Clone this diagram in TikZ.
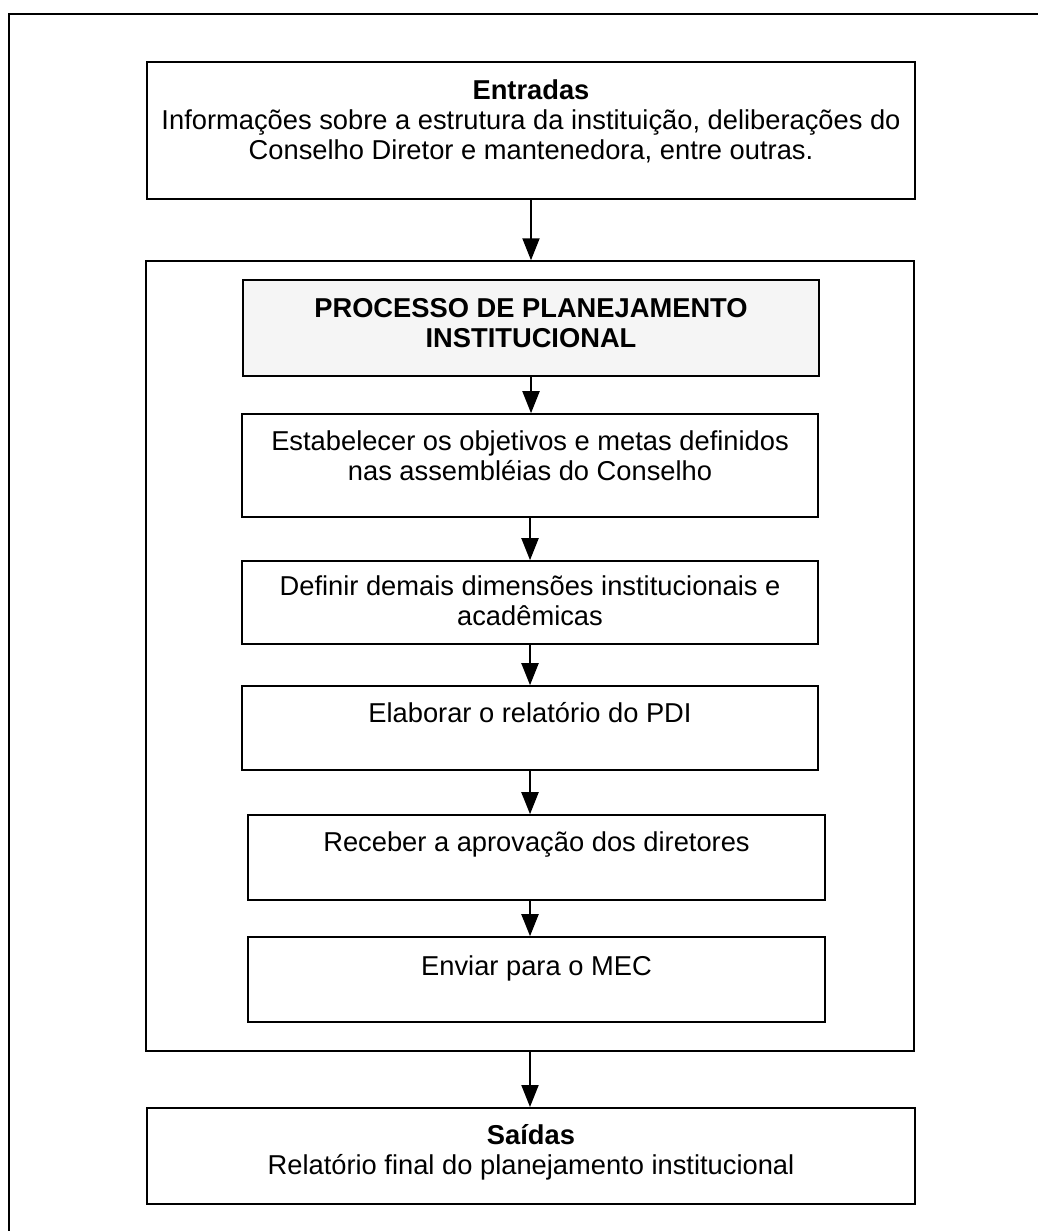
\documentclass[tikz,border=0pt]{standalone}
\usepackage{fontspec}
\setmainfont{Liberation Sans}
\usetikzlibrary{arrows.meta}

\tikzset{
  box/.style={draw=black, line width=1.6pt, rectangle, inner sep=0pt, fill=white},
  ioBox/.style={box, line width=2pt},
  titleBox/.style={box, fill=black!4},
  frameBox/.style={draw=black, line width=1.5pt, rectangle, inner sep=0pt},
  txt/.style={anchor=north, inner sep=0pt, align=center,
              font=\fontsize{27.3}{30}\selectfont},
  flow/.style={line width=2pt, -{Triangle[length=22pt,width=17pt]}},
}

\begin{document}
\begin{tikzpicture}[x=1pt,y=-1pt]
\useasboundingbox (0,0) rectangle (1038,1231);

% page frame (open to the right and bottom)
\draw[line width=1.6pt] (9,1231) -- (9,14) -- (1038,14);

% input and output boxes
\node[ioBox, minimum width=768pt, minimum height=137pt] (entradas) at (531,130.5) {};
\node[ioBox, minimum width=768pt, minimum height=96pt] (saidas) at (531,1156) {};

% container of the planning process
\node[frameBox, minimum width=768pt, minimum height=790pt] (processo) at (530,656) {};

% process steps
\node[titleBox, minimum width=576pt, minimum height=96pt] (titulo) at (531,328) {};
\node[box, minimum width=576pt, minimum height=103pt] (estab) at (530,465.5) {};
\node[box, minimum width=576pt, minimum height=83pt] (definir) at (530,602.5) {};
\node[box, minimum width=576pt, minimum height=84pt] (elab) at (530,728) {};
\node[box, minimum width=577pt, minimum height=85pt] (receber) at (536.5,857.5) {};
\node[box, minimum width=577pt, minimum height=85pt] (enviar) at (536.5,979.5) {};

% texts
\node[txt] (tEntradas) at ([yshift=-19pt]entradas.north)
  {\textbf{Entradas}\\Informações sobre a estrutura da instituição, deliberações do\\Conselho Diretor e mantenedora, entre outras.};
\node[txt] (tTitulo) at ([yshift=-19pt]titulo.north)
  {\textbf{PROCESSO DE PLANEJAMENTO}\\\textbf{INSTITUCIONAL}};
\node[txt] (tEstab) at ([yshift=-17pt]estab.north)
  {Estabelecer os objetivos e metas definidos\\nas assembléias do Conselho};
\node[txt] (tDefinir) at ([yshift=-15pt]definir.north)
  {Definir demais dimensões institucionais e\\acadêmicas};
\node[txt] (tElab) at ([yshift=-17pt]elab.north) {Elaborar o relatório do PDI};
\node[txt] (tReceber) at ([yshift=-17pt]receber.north) {Receber a aprovação dos diretores};
\node[txt] (tEnviar) at ([yshift=-19pt]enviar.north) {Enviar para o MEC};
\node[txt] (tSaidas) at ([yshift=-17pt]saidas.north)
  {\textbf{Saídas}\\Relatório final do planejamento institucional};

% connectors
\draw[flow] (entradas.south) -- (entradas.south |- processo.north);
\draw[flow] (titulo.south) -- (titulo.south |- estab.north);
\draw[flow] (estab.south) -- (estab.south |- definir.north);
\draw[flow] (definir.south) -- (definir.south |- elab.north);
\draw[flow] (elab.south) -- (elab.south |- receber.north);
\draw[flow] (receber.south -| elab.south) -- (enviar.north -| elab.south);
\draw[flow] (processo.south) -- (processo.south |- saidas.north);
\end{tikzpicture}
\end{document}
